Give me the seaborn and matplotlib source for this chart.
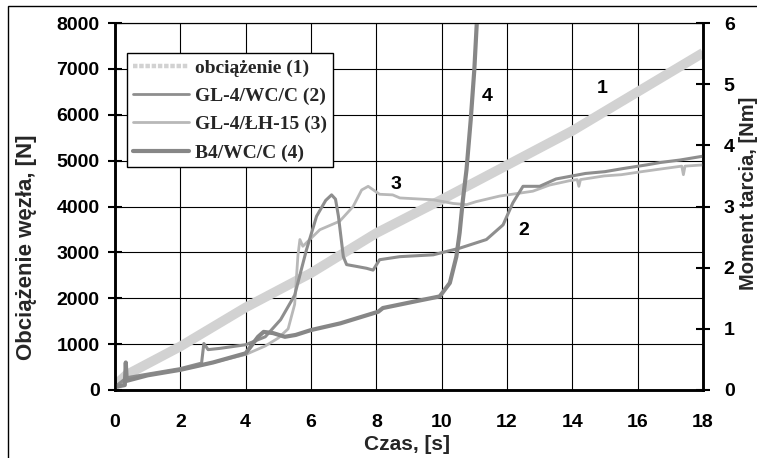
import matplotlib
matplotlib.use("Agg")
import matplotlib.pyplot as plt
import seaborn as sns
from matplotlib.lines import Line2D
from matplotlib.patches import Rectangle

# ---------------- data ----------------
time_load = [0.0, 0.35, 2.0, 4.0, 6.0, 8.0, 10.0, 12.0, 14.0, 16.0, 18.0]
load_N = [100, 330, 950, 1800, 2550, 3420, 4150, 4900, 5650, 6500, 7350]

time_gl4_wcc = [0.0, 0.35, 1.0, 2.0, 2.65, 2.72, 2.85, 3.2, 4.0, 4.6, 5.07, 5.5,
                5.86, 6.17, 6.45, 6.63, 6.75, 6.84, 6.99, 7.09, 7.4, 7.7, 7.9,
                8.1, 8.72, 9.74, 10.56, 11.37, 11.88, 12.18, 12.49, 13.0, 13.5,
                14.4, 15.0, 15.55, 16.27, 16.7, 17.3, 17.97]
moment_gl4_wcc = [0.05, 0.2, 0.26, 0.35, 0.44, 0.76, 0.66, 0.68, 0.74, 0.87, 1.15,
                  1.55, 2.29, 2.84, 3.1, 3.19, 3.12, 2.84, 2.18, 2.05, 2.02, 1.99,
                  1.96, 2.13, 2.18, 2.21, 2.32, 2.46, 2.7, 3.06, 3.33, 3.33, 3.45,
                  3.54, 3.57, 3.62, 3.68, 3.72, 3.76, 3.82]

time_gl4_lh15 = [0.0, 0.35, 1.0, 2.0, 3.0, 4.0, 4.6, 5.0, 5.3, 5.5, 5.6, 5.66, 5.75,
                 6.27, 6.88, 7.29, 7.55, 7.75, 8.1, 8.5, 8.72, 9.74, 10.35, 10.76,
                 11.06, 11.77, 12.79, 13.3, 13.9, 14.15, 14.2, 14.25, 14.98, 15.5,
                 16.13, 16.8, 17.35, 17.4, 17.45, 18.0]
moment_gl4_lh15 = [0.05, 0.18, 0.25, 0.33, 0.45, 0.58, 0.72, 0.85, 1.0, 1.4, 2.2,
                   2.46, 2.35, 2.62, 2.76, 3.0, 3.27, 3.33, 3.2, 3.19, 3.14, 3.11,
                   3.05, 3.03, 3.08, 3.17, 3.25, 3.35, 3.42, 3.44, 3.33, 3.44, 3.5,
                   3.52, 3.57, 3.62, 3.66, 3.52, 3.66, 3.68]

time_b4_wcc = [0.0, 0.3, 0.33, 0.36, 1.0, 2.0, 3.0, 4.0, 4.38, 4.55, 4.84, 5.2,
               5.53, 6.0, 6.9, 8.06, 8.2, 9.2, 9.94, 10.25, 10.45, 10.55, 10.65,
               10.76, 10.89, 11.0, 11.08, 11.1]
moment_b4_wcc = [0.05, 0.08, 0.45, 0.15, 0.24, 0.33, 0.45, 0.6, 0.87, 0.95, 0.93,
                 0.87, 0.9, 0.98, 1.09, 1.28, 1.34, 1.45, 1.53, 1.75, 2.18, 2.57,
                 3.11, 3.6, 4.42, 5.24, 6.05, 6.3]

series_labels = ["obciążenie (1)", "GL-4/WC/C (2)", "GL-4/ŁH-15 (3)", "B4/WC/C (4)"]
curve_tags = ["1", "2", "3", "4"]
tag_time = [14.9, 12.5, 8.6, 11.38]
tag_load = [6580, 3470, 4470, 6400]

x_ticks = list(range(0, 19, 2))
load_ticks = list(range(0, 8001, 1000))
moment_ticks = list(range(0, 7))

# ---------------- styling ----------------
sns.set_style("white")
plt.rcParams["font.family"] = ["Liberation Sans", "DejaVu Sans"]
plt.rcParams["font.weight"] = "bold"

W, H = 757, 458
fig = plt.figure(figsize=(W / 100, H / 100), dpi=100)
fig.patch.set_facecolor("white")

L, R, B, T = 115, 703, 390, 23
ax = fig.add_axes([L / W, 1 - B / H, (R - L) / W, (B - T) / H])
ax2 = ax.twinx()
ax2.patch.set_visible(False)

c_load, c2, c3, c4 = "#d2d2d2", "#8e8e8e", "#b8b8b8", "#878787"

sns.lineplot(x=time_load, y=load_N, ax=ax, color=c_load, linewidth=7,
             estimator=None, sort=False, legend=False, solid_capstyle="butt")
sns.lineplot(x=time_gl4_lh15, y=moment_gl4_lh15, ax=ax2, color=c3, linewidth=2.0,
             estimator=None, sort=False, legend=False)
sns.lineplot(x=time_gl4_wcc, y=moment_gl4_wcc, ax=ax2, color=c2, linewidth=2.2,
             estimator=None, sort=False, legend=False)
sns.lineplot(x=time_b4_wcc, y=moment_b4_wcc, ax=ax2, color=c4, linewidth=3.0,
             estimator=None, sort=False, legend=False)

ax.set_xlim(0, 18)
ax.set_ylim(0, 8000)
ax2.set_ylim(0, 6)
ax.set_xticks(x_ticks)
ax.set_yticks(load_ticks)
ax2.set_yticks(moment_ticks)
ax.set_xlabel("")
ax.set_ylabel("")
ax2.set_ylabel("")

ax.grid(True, color="black", linewidth=0.8)
ax.set_axisbelow(True)
ax2.grid(False)

for a in (ax, ax2):
    for s in a.spines.values():
        s.set_color("black")
    a.spines["left"].set_linewidth(1.8)
    a.spines["bottom"].set_linewidth(1.8)
    a.spines["right"].set_linewidth(1.8)
    a.spines["top"].set_linewidth(0.8)

ax.tick_params(axis="both", direction="inout", length=10, width=1.5,
               colors="black", labelsize=14)
ax.tick_params(axis="x", pad=12)
ax.tick_params(axis="y", pad=6)
ax2.tick_params(axis="y", direction="inout", length=10, width=1.5,
                colors="black", labelsize=14, pad=10)
for lab in ax.get_xticklabels() + ax.get_yticklabels() + ax2.get_yticklabels():
    lab.set_fontweight("bold")

# axis titles
fig.text(27 / W, 1 - 247 / H, "Obciążenie węzła, [N]", rotation=90,
         ha="center", va="center", fontsize=16, fontweight="bold")
fig.text(749 / W, 1 - 193 / H, "Moment tarcia, [Nm]", rotation=90,
         ha="center", va="center", fontsize=14.5, fontweight="bold")
fig.text(407 / W, 1 - 445 / H, "Czas, [s]", ha="center", va="center",
         fontsize=15, fontweight="bold")

# curve tags
for tg, tx, ty in zip(curve_tags, tag_time, tag_load):
    ax.text(tx, ty, tg, ha="center", va="center", fontsize=14,
            fontweight="bold", color="black", zorder=10)

# legend
handles = [
    Line2D([], [], color=c_load, linewidth=3.2, linestyle=(0, (1, 0.4))),
    Line2D([], [], color=c2, linewidth=2.0),
    Line2D([], [], color=c3, linewidth=2.0),
    Line2D([], [], color=c4, linewidth=3.0),
]
leg = ax2.legend(handles, series_labels, loc="upper left",
                 bbox_to_anchor=(127 / W, 1 - 53 / H),
                 bbox_transform=fig.transFigure, borderaxespad=0,
                 frameon=True, fancybox=False, framealpha=1, edgecolor="black",
                 prop=dict(family=["Liberation Serif"], weight="bold", size=14),
                 handlelength=2.9, handletextpad=0.3, borderpad=0.3,
                 labelspacing=0.55)
leg.get_frame().set_linewidth(1.0)

# outer frame of the figure (partially cropped)
fig.patches.append(Rectangle((7.5 / W, -0.5), 2.0, 0.5 + 1 - 5.5 / H,
                             transform=fig.transFigure, fill=False,
                             edgecolor="black", linewidth=1.0))

fig.savefig("out.png", dpi=100, facecolor="white")
